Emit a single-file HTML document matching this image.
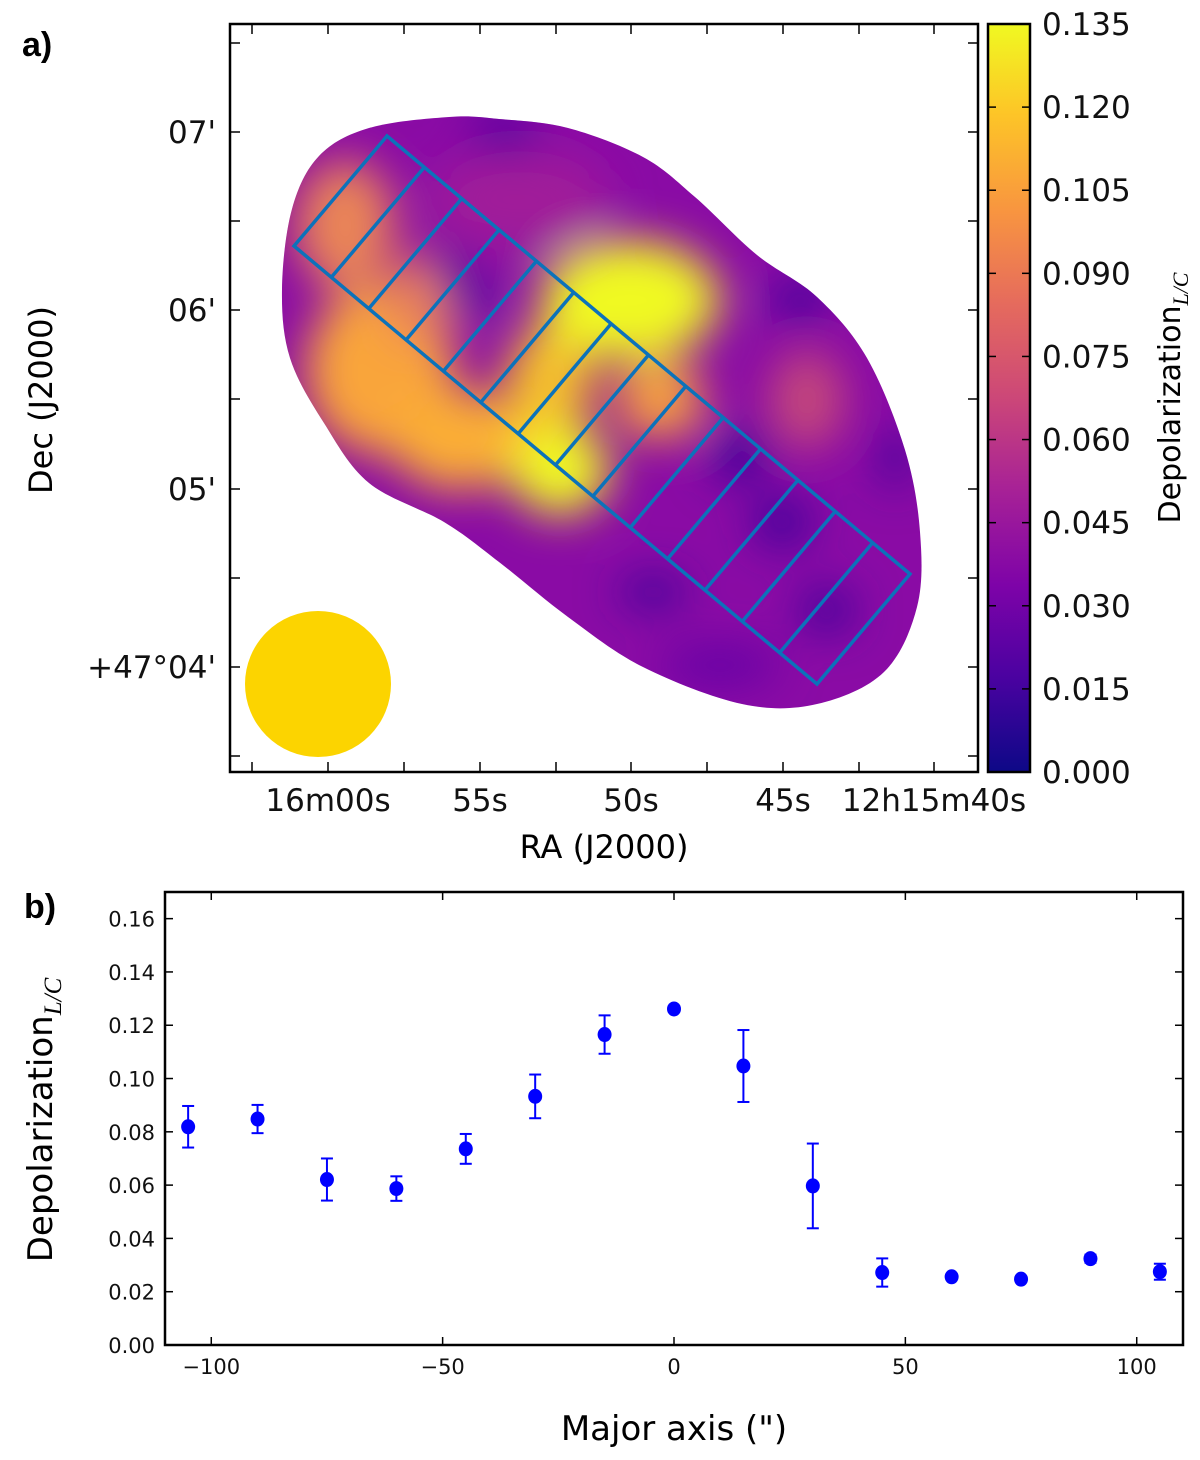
<!DOCTYPE html>
<html><head><meta charset="utf-8"><style>
html,body{margin:0;padding:0;background:#fff}
svg{display:block;font-family:"DejaVu Sans","Liberation Sans",sans-serif}
</style></head><body>
<svg id="fig" width="1200" height="1460" viewBox="0 0 1200 1460">
<defs>
<clipPath id="blobclip"><path id="blobpath" d=""/></clipPath>
<filter id="blur" x="-50%" y="-50%" width="200%" height="200%"><feGaussianBlur stdDeviation="22"/></filter>
<linearGradient id="plasma" x1="0" y1="1" x2="0" y2="0">
<stop offset="0" stop-color="#0d0887"/><stop offset="0.13" stop-color="#4c02a1"/><stop offset="0.25" stop-color="#7e03a8"/><stop offset="0.38" stop-color="#a82296"/><stop offset="0.5" stop-color="#cc4778"/><stop offset="0.63" stop-color="#e66c5c"/><stop offset="0.75" stop-color="#f89540"/><stop offset="0.88" stop-color="#fdc527"/><stop offset="1" stop-color="#f0f921"/>
</linearGradient>
</defs>

<text x="22" y="56" font-size="34" font-weight="bold" font-family="Liberation Sans, sans-serif">a)</text>
<text x="24" y="918" font-size="34" font-weight="bold" font-family="Liberation Sans, sans-serif">b)</text>

<g>
<g clip-path="url(#blobclip)">
<rect x="270" y="100" width="670" height="620" fill="#8a0ba5"/>
<g filter="url(#blur)">
<ellipse cx="520" cy="200" rx="90" ry="50" fill="#a01c9a"/>
<ellipse cx="345" cy="225" rx="50" ry="65" fill="#ea8556"/>
<ellipse cx="380" cy="370" rx="75" ry="85" fill="#f9a53a"/>
<ellipse cx="460" cy="440" rx="70" ry="50" fill="#fbae36"/>
<ellipse cx="420" cy="300" rx="35" ry="45" fill="#e8805a"/>
<ellipse cx="550" cy="380" rx="45" ry="55" fill="#f5c02c"/>
<ellipse cx="630" cy="300" rx="90" ry="60" fill="#f0f921"/>
<ellipse cx="560" cy="470" rx="50" ry="45" fill="#f0f921"/>
<ellipse cx="660" cy="400" rx="45" ry="40" fill="#f6a040"/>
<ellipse cx="462" cy="285" rx="18" ry="45" transform="rotate(-40 462 285)" fill="#4a04a0"/>
<ellipse cx="505" cy="132" rx="35" ry="20" fill="#4e02a0"/>
<ellipse cx="807" cy="400" rx="38" ry="50" fill="#c4477c"/>
<ellipse cx="740" cy="455" rx="30" ry="25" fill="#3a049a"/>
<ellipse cx="782" cy="522" rx="30" ry="25" fill="#3d049b"/>
<ellipse cx="827" cy="610" rx="28" ry="22" fill="#3d049b"/>
<ellipse cx="653" cy="592" rx="35" ry="15" fill="#35049a"/>
<ellipse cx="800" cy="300" rx="30" ry="20" fill="#3d049b"/>
<ellipse cx="895" cy="458" rx="15" ry="30" fill="#3d049b"/>
<ellipse cx="720" cy="665" rx="60" ry="20" fill="#6406a6"/>
</g>
</g>
<circle cx="318" cy="684" r="73" fill="#fcd400"/>
<g id="boxes" fill="none" stroke="#0c72ba" stroke-width="3.5"></g>
</g>
<rect x="230" y="24" width="748" height="748" fill="none" stroke="#000" stroke-width="2.5"/>
<g id="mapticks" stroke="#000" stroke-width="1.5"></g>
<g id="maplabels" font-size="31" fill="#111"></g>
<text x="604" y="858" text-anchor="middle" font-size="32">RA (J2000)</text>
<text transform="translate(52,400) rotate(-90)" text-anchor="middle" font-size="32">Dec (J2000)</text>

<g>
<rect x="988" y="24" width="42" height="748" fill="url(#plasma)" stroke="#000" stroke-width="2.5"/>
<g id="cbticks" stroke="#000" stroke-width="1.5"></g>
<g id="cblabels" font-size="31" fill="#111"></g>
<text transform="translate(1180,398) rotate(-90)" text-anchor="middle" font-size="30">Depolarization<tspan font-family="Liberation Serif, serif" font-style="italic" font-size="22" dy="8">L/C</tspan></text>
</g>

<g id="plotb"></g>
<text x="674" y="1440" text-anchor="middle" font-size="34">Major axis (")</text>
<text transform="translate(52,1120) rotate(-90)" text-anchor="middle" font-size="34">Depolarization<tspan font-family="Liberation Serif, serif" font-style="italic" font-size="25" dy="9">L/C</tspan></text>
</svg>
<script>
const NS="http://www.w3.org/2000/svg";
// ---- panel b data ----
const positions=[-105,-90,-75,-60,-45,-30,-15,0,15,30,45,60,75,90,105];
const depol=[0.0819,0.0848,0.0621,0.0587,0.0736,0.0933,0.1165,0.1261,0.1047,0.0597,0.0272,0.0256,0.0247,0.0324,0.0275];
const depolErr=[0.0078,0.0053,0.0079,0.0046,0.0056,0.0082,0.0072,0.001,0.0135,0.0159,0.0053,0.001,0.001,0.0015,0.003];
const xTicks=[-100,-50,0,50,100];
const yTicks=[0,0.02,0.04,0.06,0.08,0.10,0.12,0.14,0.16];
const yTickLabels=["0.00","0.02","0.04","0.06","0.08","0.10","0.12","0.14","0.16"];
// ---- map axis labels ----
const raLabels=["16m00s","55s","50s","45s","12h15m40s"];
const decLabels=["07'","06'","05'","+47°04'"];
const cbTicks=[0,0.015,0.03,0.045,0.06,0.075,0.09,0.105,0.12,0.135];
const cbTickLabels=["0.000","0.015","0.030","0.045","0.060","0.075","0.090","0.105","0.120","0.135"];

function mk(tag,attrs,parent){const e=document.createElementNS(NS,tag);for(const k in attrs)e.setAttribute(k,attrs[k]);parent.appendChild(e);return e;}

// smooth blob outline (Catmull-Rom)
(function(){
 const P=[[449,117],[499,119],[568,128],[643,157],[695,197],[757,255],[817,297],[867,358],[905,450],[920,532],[917,607],[884,672],[817,704],[742,704],[643,667],[568,617],[499,562],[444,522],[369,483],[324,423],[290,358],[282,289],[292,209],[319,156],[369,128]];
 const n=P.length;let d=`M${P[0][0]},${P[0][1]}`;
 for(let i=0;i<n;i++){const p0=P[(i-1+n)%n],p1=P[i],p2=P[(i+1)%n],p3=P[(i+2)%n];
  const c1=[p1[0]+(p2[0]-p0[0])/6,p1[1]+(p2[1]-p0[1])/6],c2=[p2[0]-(p3[0]-p1[0])/6,p2[1]-(p3[1]-p1[1])/6];
  d+=` C${c1[0]},${c1[1]} ${c2[0]},${c2[1]} ${p2[0]},${p2[1]}`;}
 document.getElementById('blobpath').setAttribute('d',d+'Z');
})();

// Boxes along major axis (14)
(function(){
 const g=document.getElementById('boxes');
 const A=[387,136],B=[910,574],D=[294,246];
 const v=[D[0]-A[0],D[1]-A[1]];
 const C=[B[0]+v[0],B[1]+v[1]];
 const p=mk('polygon',{points:`${A} ${B} ${C} ${D}`},g);
 
 
 const n=14;
 for(let i=1;i<n;i++){const t=i/n;const x1=A[0]+(B[0]-A[0])*t,y1=A[1]+(B[1]-A[1])*t;
  const l=mk('line',{x1:x1,y1:y1,x2:x1+v[0],y2:y1+v[1]},g);
  
  }
})();

// Map ticks
(function(){
 const g=document.getElementById('mapticks'),lg=document.getElementById('maplabels');
 const xt=[252,328,404,480,556,631,707,783,859,934];
 xt.forEach(x=>{mk('line',{x1:x,y1:24,x2:x,y2:34},g);mk('line',{x1:x,y1:772,x2:x,y2:762},g);});
 const yt=[43,132,221,310,399,489,578,667,756];
 yt.forEach(y=>{mk('line',{x1:230,y1:y,x2:240,y2:y},g);mk('line',{x1:978,y1:y,x2:968,y2:y},g);});
 const rx=[328,480,631,783,934];
 raLabels.forEach((s,i)=>{const t=mk('text',{x:rx[i],y:811,'text-anchor':'middle'},lg);t.textContent=s;
  
  });
 const dy=[132,310,489,667];
 decLabels.forEach((s,i)=>{const t=mk('text',{x:216,y:dy[i]+11,'text-anchor':'end'},lg);t.textContent=s;
  
  });
 const cg=document.getElementById('cbticks'),cl=document.getElementById('cblabels');
 const cy=v=>772-v/0.135*748;
 cbTicks.forEach((v,i)=>{const y=cy(v);mk('line',{x1:1030,y1:y,x2:1022,y2:y},cg);mk('line',{x1:988,y1:y,x2:996,y2:y},cg);
  const t=mk('text',{x:1042,y:y+11},cl);t.textContent=cbTickLabels[i];
  
  });
})();

// Panel b
(function(){
 const g=document.getElementById('plotb');
 const L=165,R=1183,T=892,Bt=1345;
 const xmin=-110,xmax=110,ymin=0,ymax=0.17;
 const X=v=>L+(v-xmin)/(xmax-xmin)*(R-L);
 const Y=v=>Bt-(v-ymin)/(ymax-ymin)*(Bt-T);
 xTicks.forEach(v=>{mk('line',{x1:X(v),y1:Bt,x2:X(v),y2:Bt-8,stroke:'#000','stroke-width':1.5},g);mk('line',{x1:X(v),y1:T,x2:X(v),y2:T+8,stroke:'#000','stroke-width':1.5},g);
  const t=mk('text',{x:X(v),y:Bt+29,'text-anchor':'middle','font-size':21,fill:'#111'},g);t.textContent=v<0?'\u2212'+(-v):String(v);
  
  });
 yTicks.forEach((v,i)=>{mk('line',{x1:L,y1:Y(v),x2:L+8,y2:Y(v),stroke:'#000','stroke-width':1.5},g);mk('line',{x1:R,y1:Y(v),x2:R-8,y2:Y(v),stroke:'#000','stroke-width':1.5},g);
  const t=mk('text',{x:L-10,y:Y(v)+8,'text-anchor':'end','font-size':21,fill:'#111'},g);t.textContent=yTickLabels[i];
  
  });
 positions.forEach((p,i)=>{const x=X(p),y=Y(depol[i]),y1=Y(depol[i]+depolErr[i]),y2=Y(depol[i]-depolErr[i]);
  const eg=mk('g',{stroke:'#0000ff','stroke-width':2},g);
  
  
  mk('line',{x1:x,y1:y1,x2:x,y2:y2},eg);mk('line',{x1:x-6,y1:y1,x2:x+6,y2:y1},eg);mk('line',{x1:x-6,y1:y2,x2:x+6,y2:y2},eg);
  const c=mk('ellipse',{cx:x,cy:y,rx:7,ry:7.5,fill:'#0000ff'},g);
  
  });
 const f=mk('rect',{x:L,y:T,width:R-L,height:Bt-T,fill:'none',stroke:'#000','stroke-width':2.5},g);
 
 
})();
</script>
</body></html>
